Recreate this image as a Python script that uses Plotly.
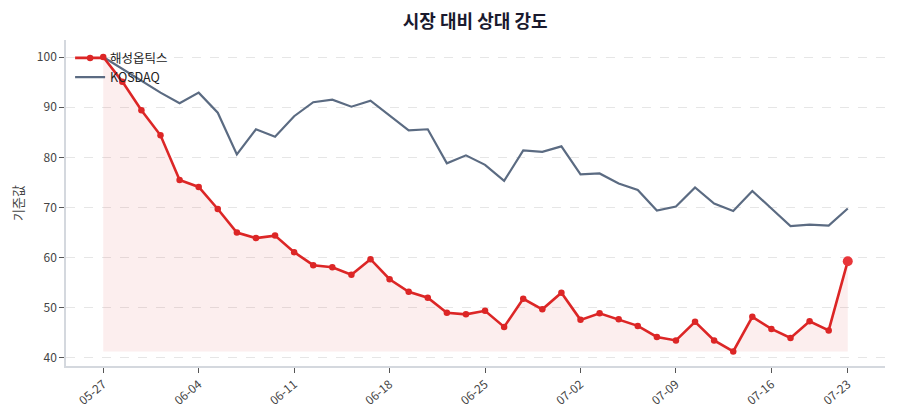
import plotly.graph_objects as go

dates = ["05-27","05-28","05-29","05-30","06-02","06-04","06-05","06-06","06-09","06-10",
         "06-11","06-12","06-13","06-16","06-17","06-18","06-19","06-20","06-23","06-24",
         "06-25","06-26","06-27","06-30","07-01","07-02","07-03","07-04","07-07","07-08",
         "07-09","07-10","07-11","07-14","07-15","07-16","07-17","07-18","07-22","07-23"]

stock = [100.0, 95.1, 89.4, 84.4, 75.5, 74.1, 69.7, 65.0, 63.9, 64.4,
         61.1, 58.5, 58.1, 56.6, 59.7, 55.7, 53.2, 52.0, 49.0, 48.7,
         49.4, 46.2, 51.8, 49.7, 53.0, 47.6, 48.9, 47.7, 46.4, 44.2,
         43.5, 47.2, 43.5, 41.3, 48.2, 45.8, 44.0, 47.3, 45.5, 59.3]

kosdaq = [100.0, 97.6, 95.2, 92.9, 90.8, 92.9, 88.9, 80.6, 85.6, 84.1,
          88.2, 91.0, 91.5, 90.1, 91.3, 88.4, 85.4, 85.6, 78.8, 80.4,
          78.5, 75.3, 81.4, 81.1, 82.2, 76.6, 76.8, 74.8, 73.5, 69.4,
          70.2, 74.0, 70.8, 69.3, 73.3, 69.8, 66.3, 66.6, 66.4, 69.8]

tick_idx = [0, 5, 10, 15, 20, 25, 30, 35, 39]
tick_vals = [dates[i] for i in tick_idx]
y_ticks = [40, 50, 60, 70, 80, 90, 100]

stock_name = "해성옵틱스"
bench_name = "KOSDAQ"
title_text = "시장 대비 상대 강도"
ylabel = "기준값"

FONT = "Noto Sans CJK KR"
RED = "#dc2626"
GRAY = "#5b6b82"

base = min(stock)
fig = go.Figure()

fig.add_trace(go.Scatter(x=dates, y=[base] * len(dates), mode="lines",
                         line=dict(width=0, color="rgba(0,0,0,0)"),
                         showlegend=False, hoverinfo="skip"))
fig.add_trace(go.Scatter(x=dates, y=stock, mode="lines", fill="tonexty",
                         fillcolor="rgba(220,38,38,0.08)",
                         line=dict(width=0, color="rgba(0,0,0,0)"),
                         showlegend=False, hoverinfo="skip"))
fig.add_trace(go.Scatter(x=dates, y=kosdaq, mode="lines", name=bench_name,
                         line=dict(color=GRAY, width=2.2)))
fig.add_trace(go.Scatter(x=dates, y=stock, mode="lines+markers", name=stock_name,
                         line=dict(color=RED, width=2.6),
                         marker=dict(size=6.5, color=RED)))
fig.add_trace(go.Scatter(x=[dates[-1]], y=[stock[-1]], mode="markers",
                         marker=dict(size=10, color="#e8363a"),
                         showlegend=False))

fig.update_layout(
    width=900, height=420,
    paper_bgcolor="white", plot_bgcolor="white",
    margin=dict(l=66, r=15, t=40, b=54),
    font=dict(family=FONT, size=12, color="#333a44"),
    title=dict(text=f"<b>{title_text}</b>", x=0.528, xanchor="center", y=0.948,
               yanchor="middle", font=dict(size=18, color="#1a1a2e", family=FONT)),
    showlegend=True,
    legend=dict(x=0.005, y=0.99, xanchor="left", yanchor="top",
                bgcolor="rgba(0,0,0,0)", font=dict(size=12.5, color="#222"),
                traceorder="reversed", itemwidth=30, tracegroupgap=0),
)

fig.update_xaxes(
    type="category", range=[-1.95, 40.95],
    tickmode="array", tickvals=tick_vals, ticktext=tick_vals,
    tickangle=-40, ticks="outside", ticklen=5, tickcolor="#555",
    showline=True, linecolor="#d4d8de", linewidth=1.5,
    showgrid=False, zeroline=False,
    tickfont=dict(size=12, color="#444"),
)
fig.update_yaxes(
    range=[38.4, 103.4], tickmode="array", tickvals=y_ticks,
    ticks="outside", ticklen=5, tickcolor="#555",
    showline=True, linecolor="#d4d8de", linewidth=1.5,
    showgrid=True, gridcolor="#e6e6e6", griddash="dash", gridwidth=1,
    zeroline=False,
    title=dict(text=ylabel, font=dict(size=13, color="#444"), standoff=10),
    tickfont=dict(size=12, color="#444"),
)

fig.write_html("out.html")
